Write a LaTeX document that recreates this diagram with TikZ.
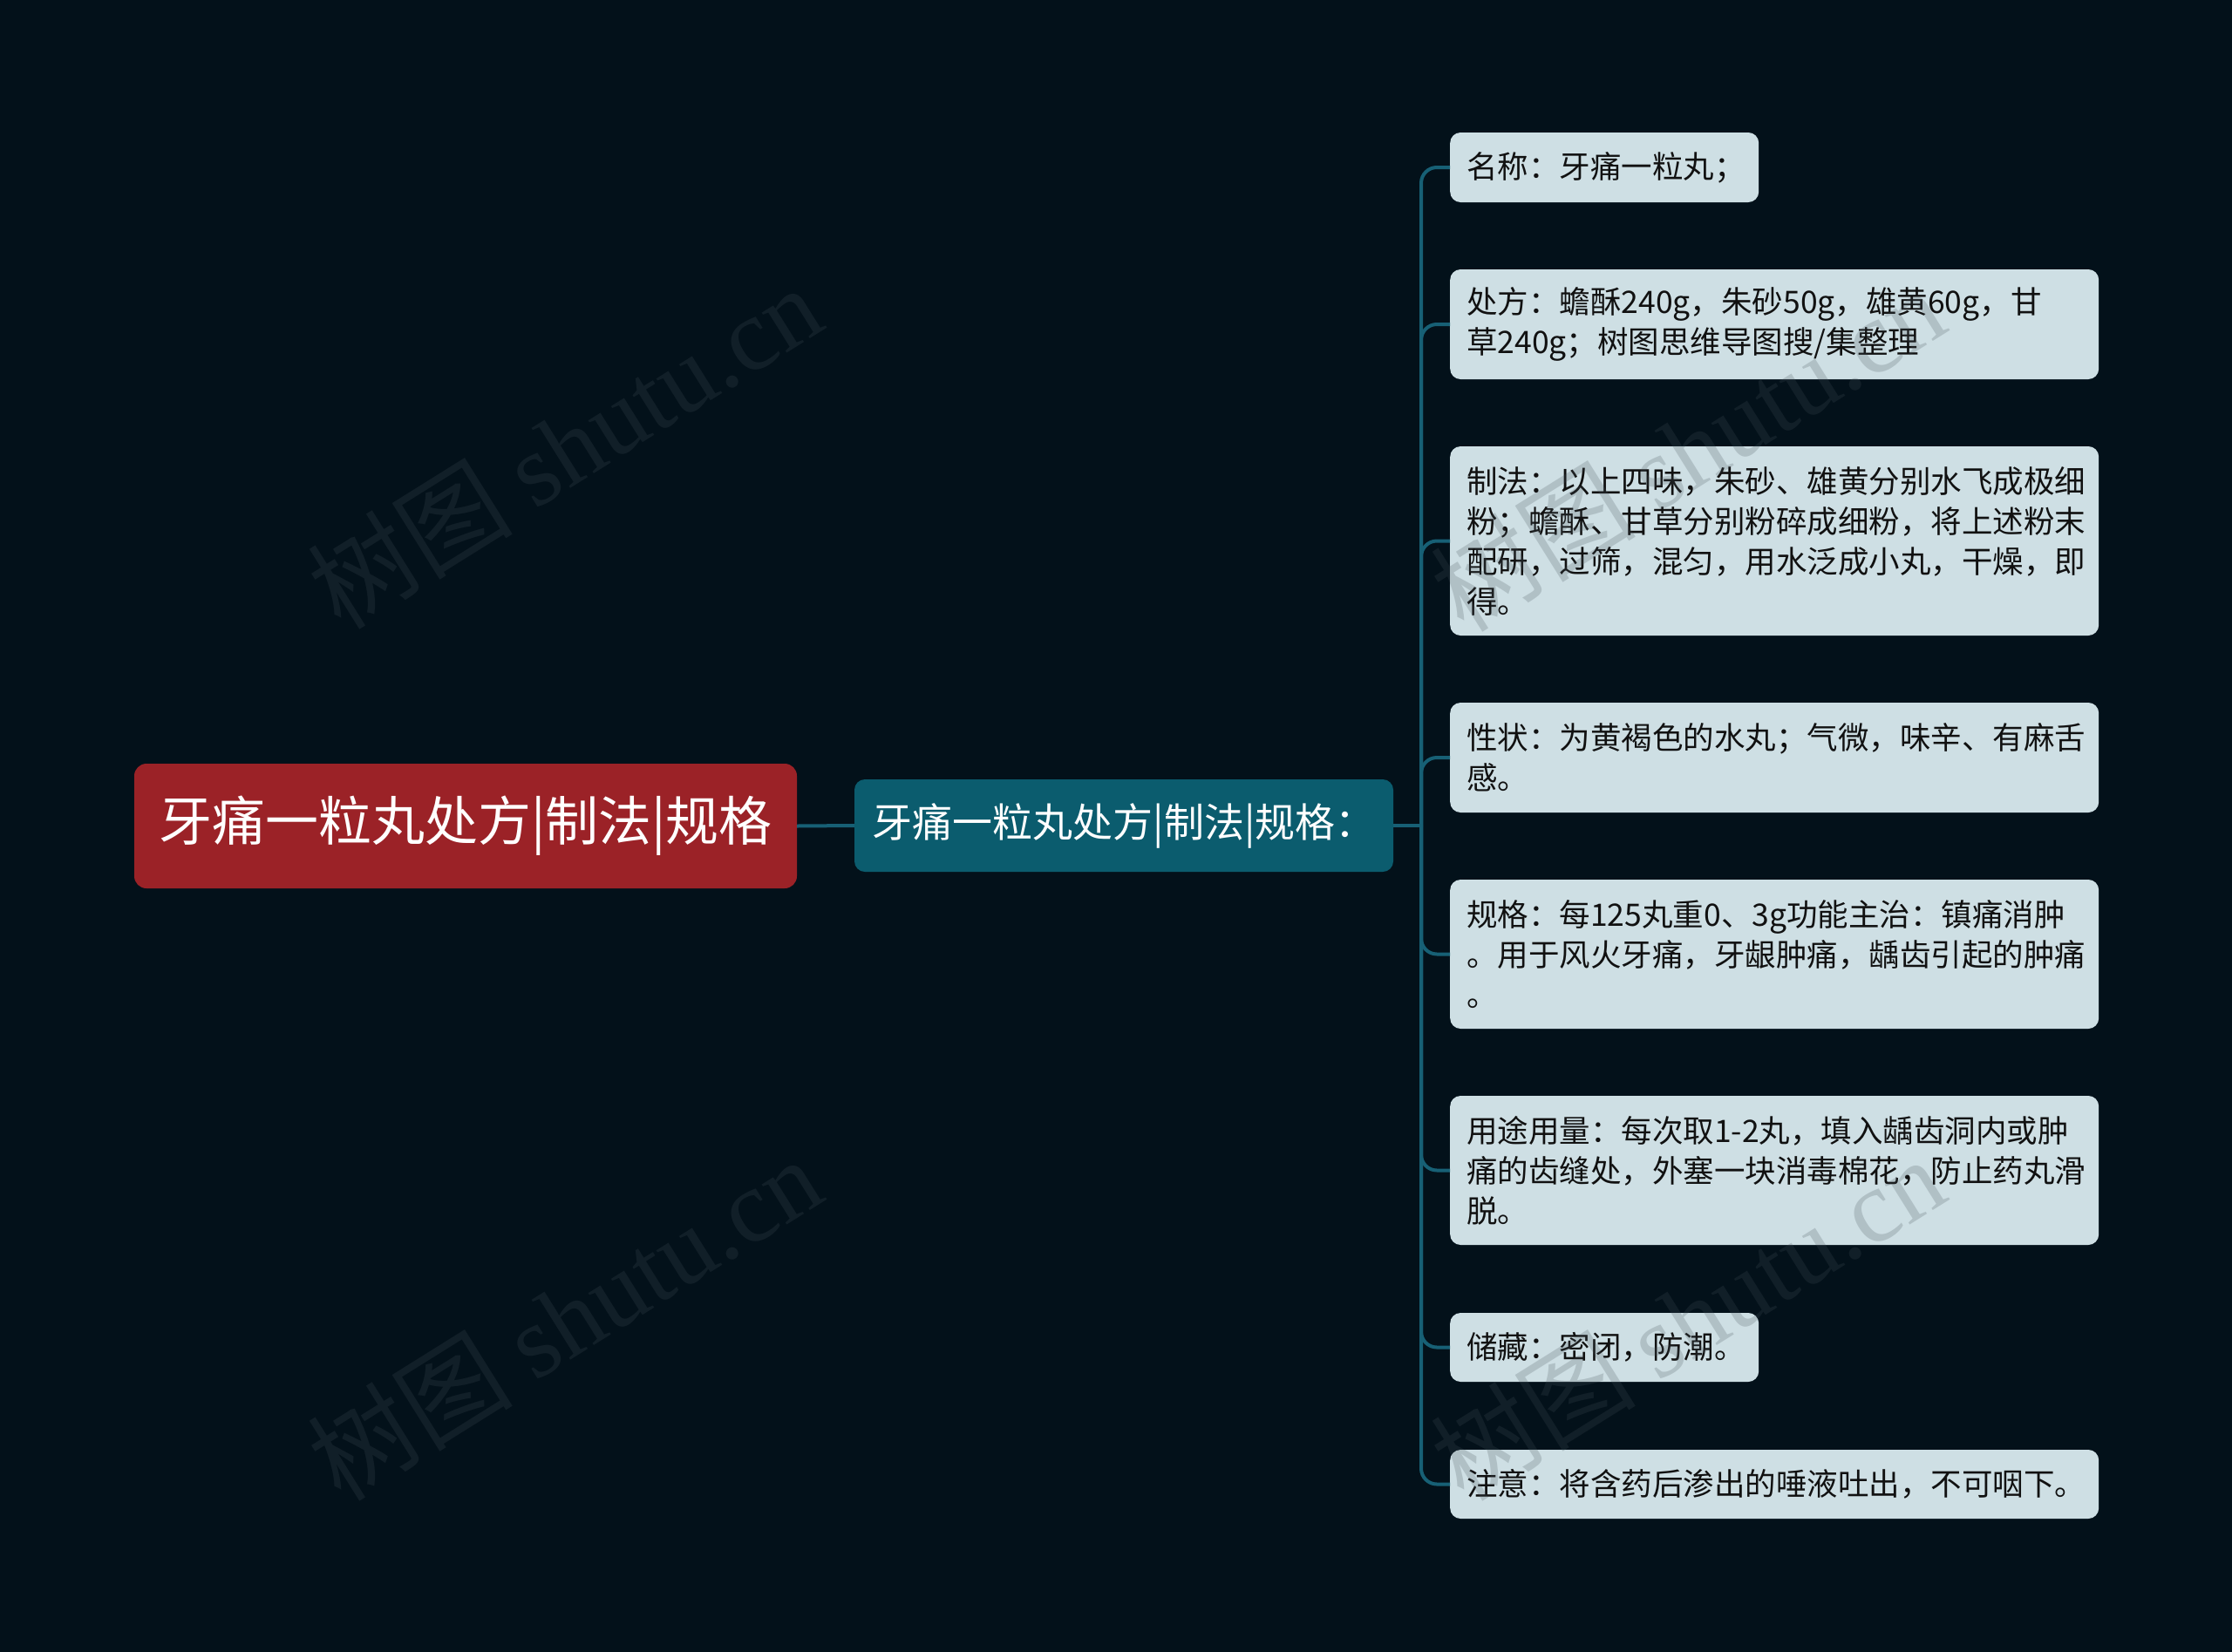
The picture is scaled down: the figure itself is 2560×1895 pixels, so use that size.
\documentclass[tikz,border=0pt]{standalone}
\usepackage{fontspec}
\setmainfont{Noto Sans CJK SC}
\newfontfamily\wmserif{Liberation Serif}
\definecolor{bgc}{HTML}{03111A}
\definecolor{rootc}{HTML}{9B2227}
\definecolor{midc}{HTML}{0B5C6E}
\definecolor{linkc}{HTML}{176075}
\definecolor{leafc}{HTML}{CEDFE4}
\definecolor{leaftext}{HTML}{111111}
\definecolor{wmc}{HTML}{46525A}
\begin{document}
\begin{tikzpicture}[x=1pt,y=-1pt,
  rootbox/.style={fill=rootc, rounded corners=14pt, text=white, minimum width=760pt, minimum height=143pt, inner sep=0pt, font=\fontsize{61}{72}\selectfont},
  midbox/.style={fill=midc, rounded corners=12pt, text=white, minimum width=618pt, minimum height=106pt, inner sep=0pt, font=\fontsize{46}{56}\selectfont},
  leafbox/.style={fill=leafc, rounded corners=12pt, text=leaftext, anchor=west, align=left, inner xsep=19pt, inner ysep=0pt, font=\fontsize{35.5}{46}\selectfont},
  wide/.style={leafbox, text width=706pt},
  narrow/.style={leafbox, text width=316pt},
  link/.style={draw=linkc, line width=4pt},
  branch/.style={link, rounded corners=18pt},
  wm/.style={text=wmc, text opacity=0.22, rotate=32, font=\fontsize{118}{128}\selectfont}
]
\useasboundingbox (0,0) rectangle (2560,1895);
\fill[bgc] (0,0) rectangle (2560,1895);

\node[rootbox] (root) at (534,947.5) {牙痛一粒丸处方|制法|规格};
\node[midbox] (mid) at (1289,947) {牙痛一粒丸处方|制法|规格：};
\coordinate (hub) at (1630,947);

\node[narrow, minimum height=80pt] (l1) at (1663,192) {名称：牙痛一粒丸；};
\node[wide, minimum height=126pt] (l2) at (1663,372) {处方：蟾酥240g，朱砂50g，雄黄60g，甘\\草240g；树图思维导图搜/集整理};
\node[wide, minimum height=217pt] (l3) at (1663,620.5) {制法：以上四味，朱砂、雄黄分别水飞成极细\\粉；蟾酥、甘草分别粉碎成细粉，将上述粉末\\配研，过筛，混匀，用水泛成小丸，干燥，即\\得。};
\node[wide, minimum height=126pt] (l4) at (1663,869) {性状：为黄褐色的水丸；气微，味辛、有麻舌\\感。};
\node[wide, minimum height=171pt] (l5) at (1663,1094.5) {规格：每125丸重0、3g功能主治：镇痛消肿\\。用于风火牙痛，牙龈肿痛，龋齿引起的肿痛\\。};
\node[wide, minimum height=171pt] (l6) at (1663,1342.5) {用途用量：每次取1-2丸，填入龋齿洞内或肿\\痛的齿缝处，外塞一块消毒棉花，防止药丸滑\\脱。};
\node[narrow, minimum height=79pt] (l7) at (1663,1545.5) {储藏：密闭，防潮。};
\node[wide, minimum height=79pt] (l8) at (1663,1702.5) {注意：将含药后渗出的唾液吐出，不可咽下。};

\draw[link] (root.east) -- (mid.west);
\draw[link] (mid.east) -- (hub);
\foreach \l in {l1,l2,l3,l4,l5,l6,l7,l8} {
  \draw[branch] (hub) |- (\l.west);
}

\node[wm] (wm1) at (647,512) {树图 {\wmserif shutu.cn}};
\node[wm] (wm2) at (647,1512) {树图 {\wmserif shutu.cn}};
\node[wm] (wm3) at (1935,515) {树图 {\wmserif shutu.cn}};
\node[wm] (wm4) at (1935,1512) {树图 {\wmserif shutu.cn}};
\end{tikzpicture}
\end{document}
